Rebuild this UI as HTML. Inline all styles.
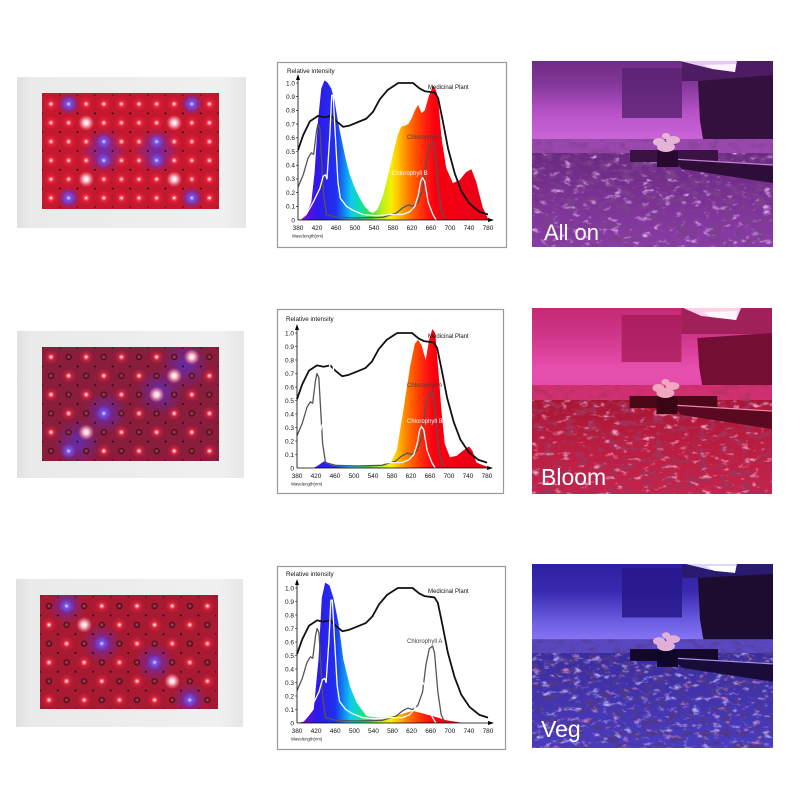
<!DOCTYPE html>
<html><head><meta charset="utf-8"><style>html,body{margin:0;padding:0;background:#fff}svg{display:block}</style></head>
<body>
<svg width="800" height="800" viewBox="0 0 800 800" xmlns="http://www.w3.org/2000/svg" font-family="'Liberation Sans', Arial, sans-serif">
<rect width="800" height="800" fill="#fff"/>
<defs>
  <linearGradient id="spec" gradientUnits="userSpaceOnUse" x1="0" y1="0" x2="400" y2="0">
    <stop offset="0" stop-color="#a020c0"/>
    <stop offset="0.05" stop-color="#6010d8"/>
    <stop offset="0.1" stop-color="#3018e8"/>
    <stop offset="0.2" stop-color="#2030f0"/>
    <stop offset="0.24" stop-color="#1080f0"/>
    <stop offset="0.28" stop-color="#10c8f0"/>
    <stop offset="0.33" stop-color="#10e0a0"/>
    <stop offset="0.38" stop-color="#40e040"/>
    <stop offset="0.44" stop-color="#b0f020"/>
    <stop offset="0.49" stop-color="#f8f000"/>
    <stop offset="0.53" stop-color="#ffc000"/>
    <stop offset="0.57" stop-color="#ff8800"/>
    <stop offset="0.62" stop-color="#ff5000"/>
    <stop offset="0.67" stop-color="#ff2010"/>
    <stop offset="0.72" stop-color="#f80010"/>
    <stop offset="1" stop-color="#e80018"/>
  </linearGradient>
  <linearGradient id="frameg" x1="0" y1="0" x2="1" y2="0">
    <stop offset="0" stop-color="#e0e0e0"/><stop offset="0.06" stop-color="#eaeaea"/>
    <stop offset="0.9" stop-color="#f0f0f0"/><stop offset="1" stop-color="#e6e6e6"/>
  </linearGradient>
  <radialGradient id="rg">
    <stop offset="0" stop-color="#ff7080" stop-opacity="0.95"/>
    <stop offset="0.3" stop-color="#ff3048" stop-opacity="0.55"/>
    <stop offset="1" stop-color="#ff2040" stop-opacity="0"/>
  </radialGradient>
  <radialGradient id="bg">
    <stop offset="0" stop-color="#e8e8ff"/>
    <stop offset="0.25" stop-color="#6a5aff" stop-opacity="0.9"/>
    <stop offset="1" stop-color="#4a30e0" stop-opacity="0"/>
  </radialGradient>
  <radialGradient id="wg">
    <stop offset="0" stop-color="#ffffff"/>
    <stop offset="0.3" stop-color="#ffe0e8" stop-opacity="0.9"/>
    <stop offset="1" stop-color="#ff90b0" stop-opacity="0"/>
  </radialGradient>
  <radialGradient id="haze">
    <stop offset="0" stop-color="#5a30d0" stop-opacity="0.75"/>
    <stop offset="1" stop-color="#5a30d0" stop-opacity="0"/>
  </radialGradient>

  <pattern id="pA" patternUnits="userSpaceOnUse" x="42.2" y="94.6" width="17.6" height="18.8">
    <circle cx="8.8" cy="9.4" r="7.5" fill="url(#rg)"/>
    <circle cx="8.8" cy="9.4" r="2.6" fill="#ff5a68"/>
    <circle cx="8.8" cy="9.4" r="1.2" fill="#ffe6e8"/>
    <circle cx="0" cy="0" r="1" fill="#2a0610"/><circle cx="17.6" cy="0" r="1" fill="#2a0610"/>
    <circle cx="0" cy="18.8" r="1" fill="#2a0610"/><circle cx="17.6" cy="18.8" r="1" fill="#2a0610"/>
  </pattern>
  <pattern id="pB" patternUnits="userSpaceOnUse" x="42.2" y="347.6" width="35.2" height="37.6">
    <circle cx="8.8" cy="9.4" r="7.5" fill="url(#rg)"/><circle cx="8.8" cy="9.4" r="2.6" fill="#ff5a68"/><circle cx="8.8" cy="9.4" r="1.2" fill="#ffe6e8"/>
    <circle cx="26.4" cy="28.2" r="7.5" fill="url(#rg)"/><circle cx="26.4" cy="28.2" r="2.6" fill="#ff5a68"/><circle cx="26.4" cy="28.2" r="1.2" fill="#ffe6e8"/>
    <circle cx="26.4" cy="9.4" r="2.7" fill="#7a2434" stroke="#3a0a16" stroke-width="0.8"/><circle cx="26.4" cy="9.4" r="0.9" fill="#b05060"/>
    <circle cx="8.8" cy="28.2" r="2.7" fill="#7a2434" stroke="#3a0a16" stroke-width="0.8"/><circle cx="8.8" cy="28.2" r="0.9" fill="#b05060"/>
    <g fill="#2a0610">
      <circle cx="0" cy="0" r="1"/><circle cx="17.6" cy="0" r="1"/><circle cx="35.2" cy="0" r="1"/>
      <circle cx="0" cy="18.8" r="1"/><circle cx="17.6" cy="18.8" r="1"/><circle cx="35.2" cy="18.8" r="1"/>
      <circle cx="0" cy="37.6" r="1"/><circle cx="17.6" cy="37.6" r="1"/><circle cx="35.2" cy="37.6" r="1"/>
    </g>
  </pattern>
  <pattern id="pC" patternUnits="userSpaceOnUse" x="40.2" y="596.6" width="35.2" height="37.6">
    <circle cx="26.4" cy="9.4" r="7.5" fill="url(#rg)"/><circle cx="26.4" cy="9.4" r="2.6" fill="#ff5a68"/><circle cx="26.4" cy="9.4" r="1.2" fill="#ffe6e8"/>
    <circle cx="8.8" cy="28.2" r="7.5" fill="url(#rg)"/><circle cx="8.8" cy="28.2" r="2.6" fill="#ff5a68"/><circle cx="8.8" cy="28.2" r="1.2" fill="#ffe6e8"/>
    <circle cx="8.8" cy="9.4" r="2.7" fill="#7a2434" stroke="#3a0a16" stroke-width="0.8"/><circle cx="8.8" cy="9.4" r="0.9" fill="#b05060"/>
    <circle cx="26.4" cy="28.2" r="2.7" fill="#7a2434" stroke="#3a0a16" stroke-width="0.8"/><circle cx="26.4" cy="28.2" r="0.9" fill="#b05060"/>
    <g fill="#2a0610">
      <circle cx="0" cy="0" r="1"/><circle cx="17.6" cy="0" r="1"/><circle cx="35.2" cy="0" r="1"/>
      <circle cx="0" cy="18.8" r="1"/><circle cx="17.6" cy="18.8" r="1"/><circle cx="35.2" cy="18.8" r="1"/>
      <circle cx="0" cy="37.6" r="1"/><circle cx="17.6" cy="37.6" r="1"/><circle cx="35.2" cy="37.6" r="1"/>
    </g>
  </pattern>

  <clipPath id="c1"><rect x="42" y="93" width="177" height="116"/></clipPath>
  <clipPath id="c2"><rect x="42" y="347" width="177" height="114"/></clipPath>
  <clipPath id="c3"><rect x="40" y="595" width="178" height="114"/></clipPath>

  <filter id="d1" x="0" y="0" width="1" height="1">
    <feTurbulence type="fractalNoise" baseFrequency="0.09 0.16" numOctaves="3" seed="3" result="n"/>
    <feColorMatrix in="n" type="matrix" values="0 0 0 0 0.2  0 0 0 0 0.05  0 0 0 0 0.26  4 0 0 0 -1.9"/>
    <feComposite in2="SourceGraphic" operator="in"/>
  </filter>
  <filter id="l1" x="0" y="0" width="1" height="1">
    <feTurbulence type="fractalNoise" baseFrequency="0.1 0.18" numOctaves="3" seed="8" result="n"/>
    <feColorMatrix in="n" type="matrix" values="0 0 0 0 0.7  0 0 0 0 0.38  0 0 0 0 0.82  0 4 0 0 -2.4"/>
    <feComposite in2="SourceGraphic" operator="in"/>
  </filter>
  <filter id="d2" x="0" y="0" width="1" height="1">
    <feTurbulence type="fractalNoise" baseFrequency="0.09 0.16" numOctaves="3" seed="4" result="n"/>
    <feColorMatrix in="n" type="matrix" values="0 0 0 0 0.36  0 0 0 0 0.03  0 0 0 0 0.1  4 0 0 0 -1.9"/>
    <feComposite in2="SourceGraphic" operator="in"/>
  </filter>
  <filter id="l2" x="0" y="0" width="1" height="1">
    <feTurbulence type="fractalNoise" baseFrequency="0.1 0.18" numOctaves="3" seed="9" result="n"/>
    <feColorMatrix in="n" type="matrix" values="0 0 0 0 0.9  0 0 0 0 0.35  0 0 0 0 0.55  0 4 0 0 -2.4"/>
    <feComposite in2="SourceGraphic" operator="in"/>
  </filter>
  <filter id="d3" x="0" y="0" width="1" height="1">
    <feTurbulence type="fractalNoise" baseFrequency="0.09 0.16" numOctaves="3" seed="5" result="n"/>
    <feColorMatrix in="n" type="matrix" values="0 0 0 0 0.08  0 0 0 0 0.04  0 0 0 0 0.25  4 0 0 0 -1.9"/>
    <feComposite in2="SourceGraphic" operator="in"/>
  </filter>
  <filter id="l3" x="0" y="0" width="1" height="1">
    <feTurbulence type="fractalNoise" baseFrequency="0.1 0.18" numOctaves="3" seed="11" result="n"/>
    <feColorMatrix in="n" type="matrix" values="0 0 0 0 0.45  0 0 0 0 0.4  0 0 0 0 0.9  0 4 0 0 -2.4"/>
    <feComposite in2="SourceGraphic" operator="in"/>
  </filter>
  <filter id="r3" x="0" y="0" width="1" height="1">
    <feTurbulence type="fractalNoise" baseFrequency="0.1 0.18" numOctaves="3" seed="21" result="n"/>
    <feColorMatrix in="n" type="matrix" values="0 0 0 0 0.55  0 0 0 0 0.2  0 0 0 0 0.5  0 0 4 0 -2.5"/>
    <feComposite in2="SourceGraphic" operator="in"/>
  </filter>

  <linearGradient id="w1" x1="0" y1="0" x2="0" y2="1">
    <stop offset="0" stop-color="#6e2c84"/><stop offset="0.25" stop-color="#84389a"/>
    <stop offset="0.55" stop-color="#b852c8"/><stop offset="0.8" stop-color="#c864d6"/><stop offset="1" stop-color="#b45ac8"/>
  </linearGradient>
  <linearGradient id="f1" x1="0" y1="0" x2="0" y2="1">
    <stop offset="0" stop-color="#6a2a80"/><stop offset="0.5" stop-color="#7a3294"/><stop offset="1" stop-color="#8a3ca8"/>
  </linearGradient>
  <linearGradient id="w2" x1="0" y1="0" x2="0" y2="1">
    <stop offset="0" stop-color="#c42a74"/><stop offset="0.3" stop-color="#d0368a"/>
    <stop offset="0.65" stop-color="#e850b0"/><stop offset="1" stop-color="#e048a8"/>
  </linearGradient>
  <linearGradient id="f2" x1="0" y1="0" x2="0" y2="1">
    <stop offset="0" stop-color="#a81634"/><stop offset="0.5" stop-color="#bc1c40"/><stop offset="1" stop-color="#c4244c"/>
  </linearGradient>
  <linearGradient id="w3" x1="0" y1="0" x2="0" y2="1">
    <stop offset="0" stop-color="#2e20a0"/><stop offset="0.3" stop-color="#3a2ab0"/>
    <stop offset="0.65" stop-color="#7060e4"/><stop offset="0.85" stop-color="#8a78f4"/><stop offset="1" stop-color="#7a68e8"/>
  </linearGradient>
  <linearGradient id="f3" x1="0" y1="0" x2="0" y2="1">
    <stop offset="0" stop-color="#3a2c9c"/><stop offset="0.5" stop-color="#4234b0"/><stop offset="1" stop-color="#4a3cc0"/>
  </linearGradient>
</defs>

<!-- ============ LED PANELS ============ -->
<rect x="17" y="77" width="229" height="151" fill="url(#frameg)"/>
<rect x="42" y="93" width="177" height="116" fill="#c4182e"/>
<g clip-path="url(#c1)">
  <circle cx="103.8" cy="151" r="24" fill="url(#haze)"/>
  <circle cx="156.6" cy="151" r="24" fill="url(#haze)"/>
  <circle cx="68.6" cy="104" r="12" fill="url(#haze)"/>
  <circle cx="191.8" cy="104" r="12" fill="url(#haze)"/>
  <circle cx="68.6" cy="198" r="12" fill="url(#haze)"/>
  <circle cx="191.8" cy="198" r="12" fill="url(#haze)"/>
  <rect x="42.2" y="94.6" width="176" height="112.8" fill="url(#pA)"/>
  <g fill="url(#bg)">
    <circle cx="68.6" cy="104" r="9"/><circle cx="191.8" cy="104" r="9"/>
    <circle cx="103.8" cy="141.6" r="9"/><circle cx="156.6" cy="141.6" r="9"/>
    <circle cx="103.8" cy="160.4" r="9"/><circle cx="156.6" cy="160.4" r="9"/>
    <circle cx="68.6" cy="198" r="9"/><circle cx="191.8" cy="198" r="9"/>
  </g>
  <g fill="url(#wg)">
    <circle cx="86.2" cy="122.8" r="8"/><circle cx="174.2" cy="122.8" r="8"/>
    <circle cx="86.2" cy="179.2" r="8"/><circle cx="174.2" cy="179.2" r="8"/>
  </g>
</g>

<rect x="17" y="331" width="227" height="147" fill="url(#frameg)"/>
<rect x="42" y="347" width="177" height="114" fill="#8a1c3c"/>
<g clip-path="url(#c2)">
  <circle cx="185" cy="365" r="24" fill="url(#haze)"/>
  <circle cx="160" cy="392" r="24" fill="url(#haze)"/>
  <circle cx="105" cy="413" r="22" fill="url(#haze)"/>
  <circle cx="78" cy="442" r="24" fill="url(#haze)"/>
  <rect x="42.2" y="347.6" width="176" height="112.8" fill="url(#pB)"/>
  <g fill="url(#wg)">
    <circle cx="191.8" cy="357" r="8"/><circle cx="174.2" cy="375.8" r="8"/>
    <circle cx="156.6" cy="394.6" r="8"/><circle cx="86.2" cy="432.2" r="8"/>
  </g>
  <g fill="url(#bg)">
    <circle cx="103.8" cy="413.4" r="9"/><circle cx="68.6" cy="451" r="9"/>
  </g>
</g>

<rect x="16" y="579" width="227" height="148" fill="url(#frameg)"/>
<rect x="40" y="595" width="178" height="114" fill="#a81a32"/>
<g clip-path="url(#c3)">
  <circle cx="66.6" cy="606" r="18" fill="url(#haze)"/>
  <circle cx="101.8" cy="643.6" r="20" fill="url(#haze)"/>
  <circle cx="154.6" cy="662.4" r="20" fill="url(#haze)"/>
  <circle cx="189.8" cy="700" r="18" fill="url(#haze)"/>
  <rect x="40.2" y="596.6" width="176" height="112.8" fill="url(#pC)"/>
  <g fill="url(#bg)">
    <circle cx="66.6" cy="606" r="9"/><circle cx="101.8" cy="643.6" r="9"/>
    <circle cx="154.6" cy="662.4" r="9"/><circle cx="189.8" cy="700" r="9"/>
  </g>
  <g fill="url(#wg)">
    <circle cx="84.2" cy="624.8" r="8"/><circle cx="172.2" cy="681.2" r="8"/>
  </g>
</g>

<!-- ============ CHARTS ============ -->
<rect x="277.5" y="62.5" width="229" height="185" fill="#fff" stroke="#9a9a9a" stroke-width="1.2"/>
<g transform="translate(298,220)">
  <g transform="scale(0.475,-137)">
    <path d="M0,0 L17,.04 28,.13 35,.35 42,.72 49,.96 56,1.02 63,1 70,.96 77,.87 84,.72 91,.6 100,.45 109,.33 120,.23 130,.16 140,.1 151,.06 158,.05 168,.08 179,.18 190,.33 200,.48 210,.62 217,.68 225,.69 232,.7 239,.74 246,.8 253,.84 260,.78 267,.8 275,.9 284,.98 290,.95 295,.89 302,.6 312,.38 326,.27 340,.29 354,.35 365,.37 375,.28 389,.09 400,.01 400,0 Z" fill="url(#spec)"/>
    <g fill="none" stroke-linejoin="round">
      <path vector-effect="non-scaling-stroke" stroke="#111" stroke-width="1.8" d="M0,.51 L11,.62 25,.72 42,.76 56,.75 70,.76 81,.72 95,.68 109,.69 130,.72 144,.74 158,.79 172,.88 189,.95 211,1 242,1 256,.96 267,.94 288,.93 295,.89 305,.72 316,.52 330,.34 344,.21 361,.12 382,.06 400,.04"/>
      <path vector-effect="non-scaling-stroke" stroke="#555" stroke-width="1.3" d="M0,.24 L11,.33 21,.45 28,.49 33,.48 39,.65 42,.7 46,.67 49,.48 54,.18 60,.04 81,.02 123,.015 179,.02 207,.05 221,.09 232,.11 242,.1 253,.13 263,.23 270,.43 277,.55 284,.57 288,.52 295,.23 302,.06 309,.01"/>
      <path vector-effect="non-scaling-stroke" stroke="#fff" stroke-width="1.3" d="M3,0 L17,.04 32,.13 46,.23 53,.32 58,.33 61,.3 67,.62 71,.91 74,.91 77,.72 84,.28 89,.16 102,.1 116,.07 137,.04 165,.03 193,.04 221,.04 235,.06 246,.1 253,.18 258,.28 262,.31 267,.28 274,.13 284,.04 291,0"/>
    </g>
  </g>
  <path d="M0,0 V-143 M0,0 H193" stroke="#000" stroke-width="0.8" fill="none"/>
  <path d="M-2,-140 L0,-146 L2,-140 Z M190,-2 L196,0 L190,2 Z" fill="#000"/>
  <path d="M0,-13.7h-2M0,-27.4h-2M0,-41.1h-2M0,-54.8h-2M0,-68.5h-2M0,-82.2h-2M0,-95.9h-2M0,-109.6h-2M0,-123.3h-2M0,-137h-2" stroke="#000" stroke-width="0.6"/>
  <g font-size="6.5" fill="#111" text-anchor="end">
    <text x="-3" y="2.3">0</text><text x="-3" y="-11.4">0.1</text><text x="-3" y="-25.1">0.2</text>
    <text x="-3" y="-38.8">0.3</text><text x="-3" y="-52.5">0.4</text><text x="-3" y="-66.2">0.5</text>
    <text x="-3" y="-79.9">0.6</text><text x="-3" y="-93.6">0.7</text><text x="-3" y="-107.3">0.8</text>
    <text x="-3" y="-121">0.9</text><text x="-3" y="-134.7">1.0</text>
  </g>
  <g font-size="6.5" fill="#111" text-anchor="middle">
    <text x="0" y="10">380</text><text x="19" y="10">420</text><text x="38" y="10">460</text>
    <text x="57" y="10">500</text><text x="76" y="10">540</text><text x="95" y="10">580</text>
    <text x="114" y="10">620</text><text x="133" y="10">660</text><text x="152" y="10">700</text>
    <text x="171" y="10">740</text><text x="190" y="10">780</text>
  </g>
  <text x="-11" y="-147" font-size="6.3" fill="#111">Relative intensity</text>
  <text x="-6" y="17.5" font-size="4.3" fill="#222">Wavelength(nm)</text>
  <text x="130" y="-131" font-size="6" fill="#111">Medicinal Plant</text>
  <text x="109" y="-81" font-size="6" fill="#444">Chlorophyll A</text>
  <text x="94" y="-45" font-size="6" fill="#fff">Chlorophyll B</text>
</g>

<rect x="277.5" y="309.5" width="226" height="184" fill="#fff" stroke="#9a9a9a" stroke-width="1.2"/>
<g transform="translate(297,468)">
  <g transform="scale(0.475,-135)">
    <path d="M35,0 L45,.02 55,.045 60,.05 67,.03 80,.015 120,.02 150,.015 180,.02 196,.03 210,.13 224,.43 238,.75 248,.92 255,.95 262,.91 271,.8 278,.95 285,1.03 291,1 297,.75 304,.43 311,.18 322,.08 336,.09 350,.13 362,.16 369,.13 378,.04 392,.02 400,.01 400,0 Z" fill="url(#spec)"/>
    <g fill="none" stroke-linejoin="round">
      <path vector-effect="non-scaling-stroke" stroke="#111" stroke-width="1.8" d="M0,.51 L11,.62 25,.72 42,.76 56,.75 70,.76 81,.72 95,.68 109,.69 130,.72 144,.74 158,.79 172,.88 189,.95 211,1 242,1 256,.96 267,.94 288,.93 295,.89 305,.72 316,.52 330,.34 344,.21 361,.12 382,.06 400,.04"/>
      <path vector-effect="non-scaling-stroke" stroke="#555" stroke-width="1.3" d="M0,.24 L11,.33 21,.45 28,.49 33,.48 39,.65 42,.7 46,.67 49,.48 54,.18 60,.04 81,.02 123,.015 179,.02 207,.05 221,.09 232,.11 242,.1 253,.13 263,.23 270,.43 277,.55 284,.57 288,.52 295,.23 302,.06 309,.01"/>
      <path vector-effect="non-scaling-stroke" stroke="#fff" stroke-width="1.3" d="M3,0 L17,.04 32,.13 46,.23 53,.32 58,.33 61,.3 67,.62 71,.91 74,.91 77,.72 84,.28 89,.16 102,.1 116,.07 137,.04 165,.03 193,.04 221,.04 235,.06 246,.1 253,.18 258,.28 262,.31 267,.28 274,.13 284,.04 291,0"/>
    </g>
  </g>
  <path d="M0,0 V-141 M0,0 H193" stroke="#000" stroke-width="0.8" fill="none"/>
  <path d="M-2,-138 L0,-144 L2,-138 Z M190,-2 L196,0 L190,2 Z" fill="#000"/>
  <path d="M0,-13.5h-2M0,-27h-2M0,-40.5h-2M0,-54h-2M0,-67.5h-2M0,-81h-2M0,-94.5h-2M0,-108h-2M0,-121.5h-2M0,-135h-2" stroke="#000" stroke-width="0.6"/>
  <g font-size="6.5" fill="#111" text-anchor="end">
    <text x="-3" y="2.3">0</text><text x="-3" y="-11.2">0.1</text><text x="-3" y="-24.7">0.2</text>
    <text x="-3" y="-38.2">0.3</text><text x="-3" y="-51.7">0.4</text><text x="-3" y="-65.2">0.5</text>
    <text x="-3" y="-78.7">0.6</text><text x="-3" y="-92.2">0.7</text><text x="-3" y="-105.7">0.8</text>
    <text x="-3" y="-119.2">0.9</text><text x="-3" y="-132.7">1.0</text>
  </g>
  <g font-size="6.5" fill="#111" text-anchor="middle">
    <text x="0" y="10">380</text><text x="19" y="10">420</text><text x="38" y="10">460</text>
    <text x="57" y="10">500</text><text x="76" y="10">540</text><text x="95" y="10">580</text>
    <text x="114" y="10">620</text><text x="133" y="10">660</text><text x="152" y="10">700</text>
    <text x="171" y="10">740</text><text x="190" y="10">780</text>
  </g>
  <text x="-11" y="-147" font-size="6.3" fill="#111">Relative intensity</text>
  <text x="-6" y="17.5" font-size="4.3" fill="#222">Wavelength(nm)</text>
  <text x="131" y="-130" font-size="6" fill="#111">Medicinal Plant</text>
  <text x="110" y="-81" font-size="6" fill="#444">Chlorophyll A</text>
  <text x="110" y="-45" font-size="6" fill="#fff">Chlorophyll B</text>
</g>

<rect x="277.5" y="566.5" width="228" height="183" fill="#fff" stroke="#9a9a9a" stroke-width="1.2"/>
<g transform="translate(297,723)">
  <g transform="scale(0.4775,-135)">
    <path d="M0,0 L14,.01 24,.05 35,.1 45,.47 52,.93 59,1.04 68,1.02 76,.93 87,.74 97,.47 111,.27 125,.15 146,.05 174,.04 202,.05 223,.07 243,.09 264,.07 285,.05 313,.02 348,0 Z" fill="url(#spec)"/>
    <g fill="none" stroke-linejoin="round">
      <path vector-effect="non-scaling-stroke" stroke="#111" stroke-width="1.8" d="M0,.51 L11,.62 25,.72 42,.76 56,.75 70,.76 81,.72 95,.68 109,.69 130,.72 144,.74 158,.79 172,.88 189,.95 211,1 242,1 256,.96 267,.94 288,.93 295,.89 305,.72 316,.52 330,.34 344,.21 361,.12 382,.06 400,.04"/>
      <path vector-effect="non-scaling-stroke" stroke="#555" stroke-width="1.3" d="M0,.24 L11,.33 21,.45 28,.49 33,.48 39,.65 42,.7 46,.67 49,.48 54,.18 60,.04 81,.02 123,.015 179,.02 207,.05 221,.09 232,.11 242,.1 253,.13 263,.23 270,.43 277,.55 284,.57 288,.52 295,.23 302,.06 309,.01"/>
      <path vector-effect="non-scaling-stroke" stroke="#fff" stroke-width="1.3" d="M3,0 L17,.04 32,.13 46,.23 53,.32 58,.33 61,.3 67,.62 71,.91 74,.91 77,.72 84,.28 89,.16 102,.1 116,.07 137,.04 165,.03 193,.04 221,.04 235,.06 246,.1 253,.18 258,.28 262,.31 267,.28 274,.13 284,.04 291,0"/>
    </g>
  </g>
  <path d="M0,0 V-141 M0,0 H194" stroke="#000" stroke-width="0.8" fill="none"/>
  <path d="M-2,-138 L0,-144 L2,-138 Z M191,-2 L197,0 L191,2 Z" fill="#000"/>
  <path d="M0,-13.5h-2M0,-27h-2M0,-40.5h-2M0,-54h-2M0,-67.5h-2M0,-81h-2M0,-94.5h-2M0,-108h-2M0,-121.5h-2M0,-135h-2" stroke="#000" stroke-width="0.6"/>
  <g font-size="6.5" fill="#111" text-anchor="end">
    <text x="-3" y="2.3">0</text><text x="-3" y="-11.2">0.1</text><text x="-3" y="-24.7">0.2</text>
    <text x="-3" y="-38.2">0.3</text><text x="-3" y="-51.7">0.4</text><text x="-3" y="-65.2">0.5</text>
    <text x="-3" y="-78.7">0.6</text><text x="-3" y="-92.2">0.7</text><text x="-3" y="-105.7">0.8</text>
    <text x="-3" y="-119.2">0.9</text><text x="-3" y="-132.7">1.0</text>
  </g>
  <g font-size="6.5" fill="#111" text-anchor="middle">
    <text x="0" y="10">380</text><text x="19.1" y="10">420</text><text x="38.2" y="10">460</text>
    <text x="57.3" y="10">500</text><text x="76.4" y="10">540</text><text x="95.5" y="10">580</text>
    <text x="114.6" y="10">620</text><text x="133.7" y="10">660</text><text x="152.8" y="10">700</text>
    <text x="171.9" y="10">740</text><text x="191" y="10">780</text>
  </g>
  <text x="-11" y="-147" font-size="6.3" fill="#111">Relative intensity</text>
  <text x="-6" y="17.5" font-size="4.3" fill="#222">Wavelength(nm)</text>
  <text x="131" y="-130" font-size="6" fill="#111">Medicinal Plant</text>
  <text x="110" y="-80" font-size="6" fill="#444">Chlorophyll A</text>
</g>

<!-- ============ PHOTOS ============ -->
<svg x="532" y="61" width="241" height="186" viewBox="0 0 241 186" preserveAspectRatio="none">
  <rect width="241" height="186" fill="url(#f1)"/>
  <rect width="241" height="95" fill="url(#w1)"/>
  <rect x="90" y="7" width="60" height="50" fill="#5a2270" opacity="0.8"/>
  <rect x="150" y="0" width="91" height="20" fill="#4e1c62"/>
  <path d="M166,20 L241,14 L241,84 L172,84 L168,60 Z" fill="#34103e"/>
  <path d="M148,0 L205,0 L203,11 L176,7 Z" fill="#e8c8f4"/>
  <path d="M172,4 L204,3 L203,11 L180,8 Z" fill="#fff4ff"/>
  <rect y="78" width="241" height="16" fill="#9a48ae"/>
  <rect y="78" width="241" height="16" fill="#000" filter="url(#d1)" opacity="0.5"/>
  <rect y="92" width="241" height="94" fill="url(#f1)"/>
  <rect y="92" width="241" height="94" fill="#000" filter="url(#d1)"/>
  <rect y="92" width="241" height="94" fill="#000" filter="url(#l1)"/>
  <rect x="98" y="89" width="88" height="12" fill="#3a1244"/>
  <path d="M140,98 L241,104 L241,122 L150,108 Z" fill="#2e0e38"/>
  <path d="M140,98 L241,104" stroke="#c080d0" stroke-width="1.2"/>
  <rect x="125" y="90" width="21" height="16" fill="#28082e"/>
  <g fill="#e6b4d6"><ellipse cx="127" cy="81" rx="6" ry="4"/><ellipse cx="141" cy="79" rx="7" ry="4"/><ellipse cx="134" cy="86" rx="9" ry="5"/><ellipse cx="134" cy="75" rx="4" ry="3"/></g>
</svg>
<text x="544" y="240" font-size="22" fill="#fff">All on</text>

<svg x="532" y="308" width="240" height="186" viewBox="0 0 241 186" preserveAspectRatio="none">
  <rect width="241" height="186" fill="url(#f2)"/>
  <rect width="241" height="95" fill="url(#w2)"/>
  <rect x="90" y="7" width="60" height="47" fill="#a81c5a" opacity="0.8"/>
  <rect x="150" y="0" width="91" height="26" fill="#a0205a"/>
  <path d="M166,30 L241,25 L241,84 L172,84 L168,60 Z" fill="#740e34"/>
  <path d="M152,0 L210,0 L205,12 L170,8 Z" fill="#ffd0e8"/>
  <path d="M172,4 L206,3 L205,12 L180,9 Z" fill="#fff6fb"/>
  <rect y="77" width="241" height="17" fill="#d03070"/>
  <rect y="77" width="241" height="17" fill="#000" filter="url(#d2)" opacity="0.5"/>
  <rect y="92" width="241" height="94" fill="url(#f2)"/>
  <rect y="92" width="241" height="94" fill="#000" filter="url(#d2)"/>
  <rect y="92" width="241" height="94" fill="#000" filter="url(#l2)"/>
  <rect x="98" y="88" width="88" height="12" fill="#4a0818"/>
  <path d="M140,97 L241,103 L241,121 L150,107 Z" fill="#5a0a20"/>
  <path d="M140,97 L241,103" stroke="#f080b0" stroke-width="1.2"/>
  <rect x="125" y="89" width="21" height="17" fill="#3a0614"/>
  <g fill="#f0a8c0"><ellipse cx="127" cy="80" rx="6" ry="4"/><ellipse cx="141" cy="78" rx="7" ry="4"/><ellipse cx="134" cy="85" rx="9" ry="5"/><ellipse cx="134" cy="74" rx="4" ry="3"/></g>
</svg>
<text x="541" y="485" font-size="23" fill="#fff">Bloom</text>

<svg x="532" y="564" width="241" height="184" viewBox="0 0 241 186" preserveAspectRatio="none">
  <rect width="241" height="186" fill="url(#f3)"/>
  <rect width="241" height="93" fill="url(#w3)"/>
  <rect x="90" y="4" width="60" height="50" fill="#28188c" opacity="0.85"/>
  <rect x="150" y="0" width="91" height="14" fill="#2a1a70"/>
  <path d="M166,14 L241,10 L241,80 L172,80 L168,56 Z" fill="#1c0c30"/>
  <path d="M154,0 L205,0 L203,9 L178,6 Z" fill="#d8d8ff"/>
  <path d="M174,2 L204,2 L203,9 L182,7 Z" fill="#ffffff"/>
  <rect y="76" width="241" height="16" fill="#5a48c0"/>
  <rect y="76" width="241" height="16" fill="#000" filter="url(#d3)" opacity="0.5"/>
  <rect y="90" width="241" height="96" fill="url(#f3)"/>
  <rect y="90" width="241" height="96" fill="#000" filter="url(#d3)"/>
  <rect y="90" width="241" height="96" fill="#000" filter="url(#r3)"/>
  <rect y="90" width="241" height="96" fill="#000" filter="url(#l3)"/>
  <rect x="98" y="86" width="88" height="12" fill="#14082a"/>
  <path d="M140,95 L241,101 L241,119 L150,105 Z" fill="#1a0c38"/>
  <path d="M140,95 L241,101" stroke="#a090f0" stroke-width="1.2"/>
  <rect x="125" y="87" width="21" height="17" fill="#10062a"/>
  <g fill="#e0b0d8"><ellipse cx="127" cy="78" rx="6" ry="4"/><ellipse cx="141" cy="76" rx="7" ry="4"/><ellipse cx="134" cy="83" rx="9" ry="5"/><ellipse cx="134" cy="72" rx="4" ry="3"/></g>
</svg>
<text x="541" y="737" font-size="23" fill="#fff">Veg</text>
</svg>
</body></html>
